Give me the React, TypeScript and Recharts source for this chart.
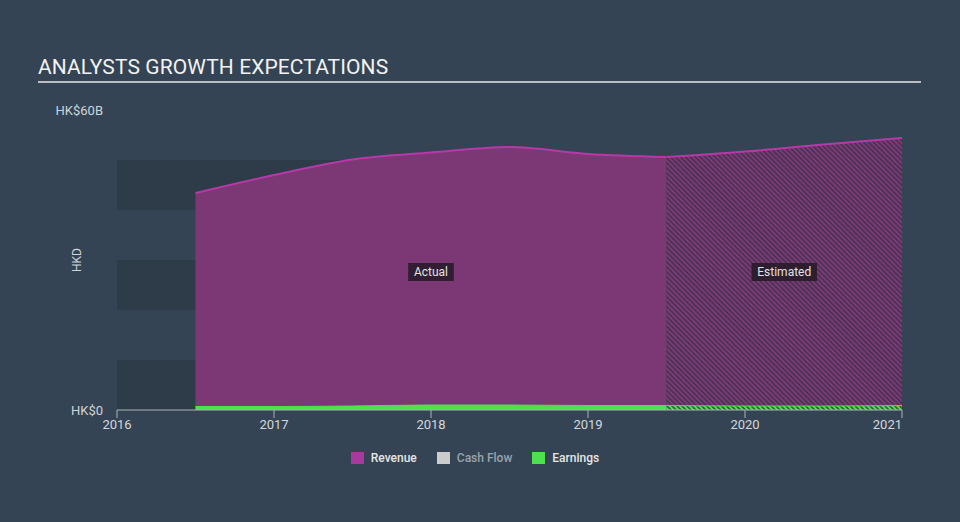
import React from 'react';
import { ComposedChart, Area, XAxis, YAxis, ReferenceArea } from 'recharts';

// time points (fractional years)
const actualYears = [2016.5, 2017.0, 2017.5, 2018.0, 2018.5, 2019.0, 2019.5];
const estimateYears = [2019.5, 2020.0, 2020.5, 2021.0];

// HK$ billions
const revenueActual = [43.4, 47.0, 50.1, 51.5, 52.6, 51.2, 50.6];
const revenueEstimate = [50.6, 51.7, 53.1, 54.4];
const earningsActual = [0.7, 0.7, 0.8, 1.0, 1.0, 0.9, 0.9];
const earningsEstimate = [0.9, 0.8, 0.8, 0.9];

const xTicks = [2016, 2017, 2018, 2019, 2020, 2021];
const yTicks = [0, 60];
const bandRanges = [[0, 10], [20, 30], [40, 50]];

const legendItems = [
  { name: 'Revenue', color: '#a8399d', text: '#e6e6e6' },
  { name: 'Cash Flow', color: '#cccccc', text: '#9aa3ad' },
  { name: 'Earnings', color: '#4fe04f', text: '#e6e6e6' },
];

// build table for recharts
const allYears = Array.from(new Set([...actualYears, ...estimateYears])).sort((a, b) => a - b);
const chartData = allYears.map((year) => {
  const ai = actualYears.indexOf(year);
  const ei = estimateYears.indexOf(year);
  return {
    year,
    revenueActual: ai >= 0 ? revenueActual[ai] : null,
    revenueEstimate: ei >= 0 ? revenueEstimate[ei] : null,
    earningsActual: ai >= 0 ? earningsActual[ai] : null,
    earningsEstimate: ei >= 0 ? earningsEstimate[ei] : null,
  };
});

const FONT = 'Roboto, "Noto Sans", sans-serif';

const XTick = (props: any) => {
  const { x, y, payload } = props;
  const last = payload.value === xTicks[xTicks.length - 1];
  return (
    <text x={x} y={y} dy="0.71em" textAnchor={last ? 'end' : 'middle'} fill="#d4d8dc" fontSize={13} fontFamily={FONT}>
      {payload.value}
    </text>
  );
};

const AxisTitle = (props: any) => {
  const { viewBox } = props;
  const cx = 77;
  const cy = viewBox.y + viewBox.height / 2;
  return (
    <text x={cx} y={cy} transform={`rotate(-90 ${cx} ${cy})`} textAnchor="middle" dy="0.35em" fill="#d0d4d8" fontSize={12} fontFamily={FONT}>
      HKD
    </text>
  );
};

const PhaseLabel = (props: any) => {
  const { viewBox, value } = props;
  const cx = viewBox.x + viewBox.width / 2;
  const cy = viewBox.y + viewBox.height / 2 + 12;
  const w = value.length * 6.6 + 6;
  return (
    <g>
      <rect x={cx - w / 2} y={cy - 9} width={w} height={18} fill="#241a27" fillOpacity={0.85} />
      <text x={cx} y={cy} dy="0.35em" textAnchor="middle" fill="#e2e2e2" fontSize={12} fontFamily={FONT}>
        {value}
      </text>
    </g>
  );
};

const App = () => {
  return (
    <div style={{ position: 'fixed', left: 0, top: 0, width: 960, height: 522, background: '#344454', fontFamily: FONT }}>
      <div style={{ position: 'absolute', left: 38, top: 55, color: '#f2f2f2', fontSize: 21, letterSpacing: 0.1 }}>
        ANALYSTS GROWTH EXPECTATIONS
      </div>
      <div style={{ position: 'absolute', left: 38, top: 81, width: 883, height: 2, background: '#b9bec4' }} />
      <div style={{ position: 'absolute', left: 0, top: 0 }}>
        <ComposedChart width={960} height={522} data={chartData} margin={{ top: 110, right: 58, bottom: 82, left: 0 }}>
          <defs>
            <pattern id="hatchRev" width="3.5" height="3.5" patternUnits="userSpaceOnUse" patternTransform="rotate(-45)">
              <rect width="3.5" height="3.5" fill="#46354f" />
              <rect width="1.8" height="3.5" fill="#80387a" />
            </pattern>
            <pattern id="hatchEarn" width="3.5" height="3.5" patternUnits="userSpaceOnUse" patternTransform="rotate(-45)">
              <rect width="3.5" height="3.5" fill="#3a5a44" />
              <rect width="1.8" height="3.5" fill="#4fe04f" />
            </pattern>
          </defs>
          {bandRanges.map((r, i) => (
            <ReferenceArea key={`band-${i}`} x1={2016} x2={2021} y1={r[0]} y2={r[1]} fill="#2e3c4a" fillOpacity={1} stroke="none" ifOverflow="hidden" />
          ))}
          <XAxis
            dataKey="year"
            type="number"
            domain={[2016, 2021]}
            ticks={xTicks}
            height={30}
            tickSize={8}
            tickMargin={2}
            stroke="#aab2ba"
            tick={<XTick />}
            allowDataOverflow
          />
          <YAxis
            type="number"
            domain={[0, 60]}
            ticks={yTicks}
            width={117}
            axisLine={false}
            tickLine={false}
            tickSize={0}
            tickMargin={14}
            tick={{ fill: '#d0d4d8', fontSize: 13, fontFamily: FONT }}
            tickFormatter={(v) => (v === 0 ? 'HK$0' : `HK$${v}B`)}
            label={<AxisTitle />}
          />
          <Area type="monotone" dataKey="revenueActual" stroke="#b53aa8" strokeWidth={2} fill="#7b3874" fillOpacity={1} isAnimationActive={false} dot={false} activeDot={false} />
          <Area type="monotone" dataKey="revenueEstimate" stroke="#b53aa8" strokeWidth={2} fill="url(#hatchRev)" fillOpacity={1} isAnimationActive={false} dot={false} activeDot={false} />
          <Area type="monotone" dataKey="earningsActual" stroke="#4fe04f" strokeWidth={1} fill="#4fe04f" fillOpacity={1} isAnimationActive={false} dot={false} activeDot={false} />
          <Area type="monotone" dataKey="earningsEstimate" stroke="#4fe04f" strokeWidth={1} fill="url(#hatchEarn)" fillOpacity={1} isAnimationActive={false} dot={false} activeDot={false} />
          <ReferenceArea x1={2016.5} x2={2019.5} y1={0} y2={60} fill="none" stroke="none" label={<PhaseLabel value="Actual" />} />
          <ReferenceArea x1={2019.5} x2={2021} y1={0} y2={60} fill="none" stroke="none" label={<PhaseLabel value="Estimated" />} />
        </ComposedChart>
      </div>
      <div style={{ position: 'absolute', left: 0, top: 450, width: 950, display: 'flex', justifyContent: 'center', fontSize: 12, fontWeight: 500 }}>
        {legendItems.map((item) => (
          <div key={item.name} style={{ display: 'flex', alignItems: 'center', margin: '0 10px' }}>
            <div style={{ width: 13, height: 12, background: item.color, marginRight: 7 }} />
            <span style={{ color: item.text, lineHeight: '16px' }}>{item.name}</span>
          </div>
        ))}
      </div>
    </div>
  );
};

export default App;
